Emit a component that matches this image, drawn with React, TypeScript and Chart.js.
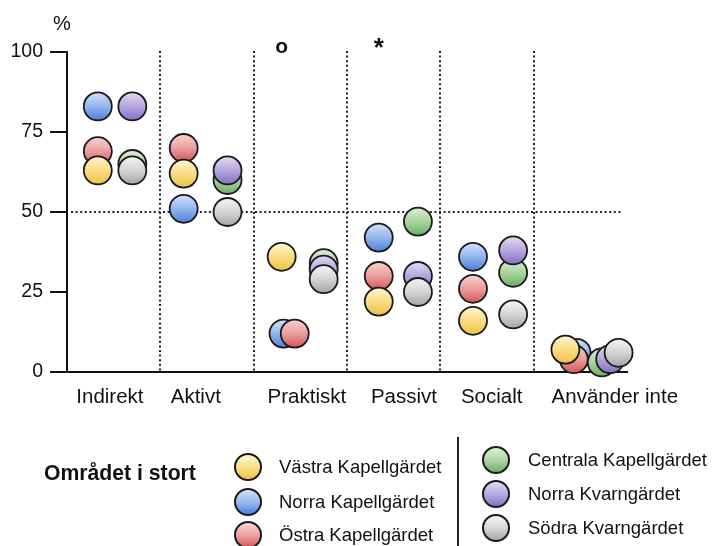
import React, { useEffect, useRef } from 'react';
import { Chart, registerables } from 'chart.js';

Chart.register(...registerables);

// ---------------- data ----------------
const CATEGORIES = ['Indirekt', 'Aktivt', 'Praktiskt', 'Passivt', 'Socialt', 'Använder inte'];
const SIGNIFICANCE = ['', '', 'o', '*', '', ''];
const Y_TICKS = [0, 25, 50, 75, 100];
const Y_TITLE = '%';
const REFERENCE_LEVEL = 50;
const LEGEND_TITLE = 'Området i stort';

const VASTRA_KAPELLGARDET = [63, 62, 36, 22, 16, 7];
const NORRA_KAPELLGARDET = [83, 51, 12, 42, 36, 6];
const OSTRA_KAPELLGARDET = [69, 70, 12, 30, 26, 4];
const CENTRALA_KAPELLGARDET = [65, 60, 34, 47, 31, 3];
const NORRA_KVARNGARDET = [83, 63, 32, 30, 38, 4];
const SODRA_KVARNGARDET = [63, 50, 29, 25, 18, 6];

const SERIES = [
  { name: 'Västra Kapellgärdet', values: VASTRA_KAPELLGARDET, group: 'left' },
  { name: 'Norra Kapellgärdet', values: NORRA_KAPELLGARDET, group: 'left' },
  { name: 'Östra Kapellgärdet', values: OSTRA_KAPELLGARDET, group: 'left' },
  { name: 'Centrala Kapellgärdet', values: CENTRALA_KAPELLGARDET, group: 'right' },
  { name: 'Norra Kvarngärdet', values: NORRA_KVARNGARDET, group: 'right' },
  { name: 'Södra Kvarngärdet', values: SODRA_KVARNGARDET, group: 'right' },
];

// ---------------- styling / layout ----------------
const FONT = '"Liberation Sans", Arial, Helvetica, sans-serif';
const COLORS: Record<string, string[]> = {
  'Västra Kapellgärdet': ['#fff6d2', '#f8dc84', '#efc044'],
  'Norra Kapellgärdet': ['#d3e1fa', '#93b5ee', '#4c7fdc'],
  'Östra Kapellgärdet': ['#f8d3d3', '#eb9d9d', '#d45656'],
  'Centrala Kapellgärdet': ['#dcefd6', '#a9d4a0', '#6cae66'],
  'Norra Kvarngärdet': ['#e2dbf3', '#b4a6de', '#8670c4'],
  'Södra Kvarngärdet': ['#f4f4f4', '#d4d4d4', '#a4a4a4'],
};
const GROUP_OFFSET: Record<string, number[]> = {
  left: [-0.17, -0.25, -0.2, -0.16, -0.15, -0.16],
  right: [0.2, 0.22, 0.25, 0.26, 0.28, 0.23],
};
const NUDGE: Record<string, number[]> = {
  'Norra Kapellgärdet': [0, 0, 0.02, 0, 0, 0.12],
  'Östra Kapellgärdet': [0, 0, 0.14, 0, 0, 0.09],
  'Norra Kvarngärdet': [0, 0, 0, 0, 0, 0.09],
  'Södra Kvarngärdet': [0, 0, 0, 0, 0, 0.18],
};
const LABEL_NUDGE = [-0.04, -0.12, 0.07, 0.11, 0.05, 0.37];
// first = drawn on top
const DRAW_ORDER = [
  'Södra Kvarngärdet',
  'Norra Kvarngärdet',
  'Centrala Kapellgärdet',
  'Västra Kapellgärdet',
  'Östra Kapellgärdet',
  'Norra Kapellgärdet',
];
const R = 14;

const gradientFill = (name: string) => (ctx: any) => {
  const c = COLORS[name];
  if (ctx.type !== 'data' || !ctx.chart || !ctx.chart.scales || !ctx.chart.scales.y || !ctx.raw) return c[1];
  const py = ctx.chart.scales.y.getPixelForValue(ctx.raw.y);
  if (!Number.isFinite(py)) return c[1];
  const g = ctx.chart.ctx.createLinearGradient(0, py - R, 0, py + R);
  g.addColorStop(0, c[0]);
  g.addColorStop(0.5, c[1]);
  g.addColorStop(1, c[2]);
  return g;
};

const decorPlugin = {
  id: 'decor',
  beforeDatasetsDraw(chart: any) {
    const { ctx, chartArea, scales } = chart;
    const x = scales.x;
    const y = scales.y;
    ctx.save();
    ctx.strokeStyle = '#222';
    ctx.lineWidth = 2;
    ctx.setLineDash([2, 2.6]);
    for (let i = 1; i < CATEGORIES.length; i++) {
      const px = Math.round(x.getPixelForValue(i));
      ctx.beginPath();
      ctx.moveTo(px, y.getPixelForValue(100) - 1);
      ctx.lineTo(px, chartArea.bottom);
      ctx.stroke();
    }
    const py = Math.round(y.getPixelForValue(REFERENCE_LEVEL));
    ctx.beginPath();
    ctx.moveTo(chartArea.left + 4, py);
    ctx.lineTo(chartArea.right - 4, py);
    ctx.stroke();
    ctx.restore();
  },
  afterDraw(chart: any) {
    const { ctx, chartArea, scales } = chart;
    const x = scales.x;
    ctx.save();
    ctx.fillStyle = '#111';
    ctx.textAlign = 'center';
    ctx.textBaseline = 'middle';
    ctx.font = `20px ${FONT}`;
    ctx.fillText(Y_TITLE, chartArea.left - 5, chartArea.top - 28);
    SIGNIFICANCE.forEach((s, i) => {
      if (!s) return;
      const px = x.getPixelForValue(i + 0.5 + GROUP_OFFSET.left[i]);
      ctx.font = s === '*' ? `bold 26px ${FONT}` : `bold 21px ${FONT}`;
      ctx.fillText(s, px, chartArea.top - (s === '*' ? 3 : 5));
    });
    ctx.restore();
  },
};

function ChartCanvas() {
  const ref = useRef<HTMLCanvasElement | null>(null);
  useEffect(() => {
    if (!ref.current) return;
    const ordered = DRAW_ORDER.map((n) => SERIES.find((s) => s.name === n)!);
    const datasets = ordered.map((s) => ({
      label: s.name,
      data: s.values.map((v, i) => ({
        x: i + 0.5 + GROUP_OFFSET[s.group][i] + (NUDGE[s.name] ? NUDGE[s.name][i] : 0),
        y: v,
      })),
      pointRadius: R,
      pointHoverRadius: R,
      pointBorderWidth: 1.8,
      pointBorderColor: '#1a1a1a',
      pointBackgroundColor: gradientFill(s.name),
      backgroundColor: COLORS[s.name][1],
      borderColor: '#1a1a1a',
      showLine: false,
      clip: false,
    }));
    const chart = new Chart(ref.current, {
      type: 'scatter',
      data: { datasets },
      options: {
        responsive: false,
        animation: false,
        devicePixelRatio: 1,
        layout: { padding: { left: 0, right: 93, top: 52, bottom: 0 } },
        plugins: { legend: { display: false }, tooltip: { enabled: false } },
        events: [],
        scales: {
          x: {
            type: 'linear',
            min: 0,
            max: CATEGORIES.length,
            afterBuildTicks: (scale: any) => {
              scale.ticks = CATEGORIES.map((_, i) => ({ value: i + 0.5 + LABEL_NUDGE[i] }));
            },
            afterFit: (scale: any) => {
              scale.height = 174;
            },
            ticks: {
              autoSkip: false,
              maxRotation: 0,
              padding: 13,
              color: '#111',
              font: { family: FONT, size: 20.5 },
              callback: (_v: any, index: number) => CATEGORIES[index],
            },
            grid: { display: false, drawTicks: false },
            border: { display: true, color: '#111', width: 2 },
          },
          y: {
            type: 'linear',
            min: 0,
            max: 100,
            afterBuildTicks: (scale: any) => {
              scale.ticks = Y_TICKS.map((v) => ({ value: v }));
            },
            afterFit: (scale: any) => {
              scale.width = 67;
            },
            ticks: {
              padding: 7,
              color: '#111',
              font: { family: FONT, size: 19.5 },
            },
            grid: {
              display: true,
              drawOnChartArea: false,
              drawTicks: true,
              tickLength: 17,
              color: '#111',
              lineWidth: 2,
            },
            border: { display: true, color: '#111', width: 2 },
          },
        },
      },
      plugins: [decorPlugin],
    } as any);
    chart.update();
    return () => chart.destroy();
  }, []);
  return <canvas ref={ref} width={720} height={546} style={{ display: 'block' }} />;
}

const LEFT_ROWS = [467, 502, 535];
const RIGHT_ROWS = [460, 494, 528];

function LegendItem({ name, cx, cy, tx }: { name: string; cx: number; cy: number; tx: number }) {
  const c = COLORS[name];
  return (
    <>
      <div
        style={{
          position: 'absolute',
          left: cx - 14,
          top: cy - 14,
          width: 24,
          height: 24,
          borderRadius: '50%',
          border: '2px solid #1a1a1a',
          background: `linear-gradient(to bottom, ${c[0]}, ${c[1]} 55%, ${c[2]})`,
        }}
      />
      <div
        style={{
          position: 'absolute',
          left: tx,
          top: cy,
          transform: 'translateY(-50%)',
          fontSize: 18.5,
          lineHeight: 1,
          whiteSpace: 'nowrap',
          color: '#111',
        }}
      >
        {name}
      </div>
    </>
  );
}

export default function App() {
  const left = SERIES.filter((s) => s.group === 'left');
  const right = SERIES.filter((s) => s.group === 'right');
  return (
    <div
      style={{
        position: 'absolute',
        left: 0,
        top: 0,
        width: 720,
        height: 546,
        overflow: 'hidden',
        background: '#fff',
        fontFamily: FONT,
      }}
    >
      <ChartCanvas />
      <div
        style={{
          position: 'absolute',
          left: 44,
          top: 473,
          transform: 'translateY(-50%)',
          fontWeight: 'bold',
          fontSize: 21.2,
          lineHeight: 1,
          whiteSpace: 'nowrap',
          color: '#111',
        }}
      >
        {LEGEND_TITLE}
      </div>
      {left.map((s, i) => (
        <LegendItem key={s.name} name={s.name} cx={248} cy={LEFT_ROWS[i]} tx={279} />
      ))}
      <div style={{ position: 'absolute', left: 457, top: 437, width: 2, height: 109, background: '#222' }} />
      {right.map((s, i) => (
        <LegendItem key={s.name} name={s.name} cx={496} cy={RIGHT_ROWS[i]} tx={528} />
      ))}
    </div>
  );
}
